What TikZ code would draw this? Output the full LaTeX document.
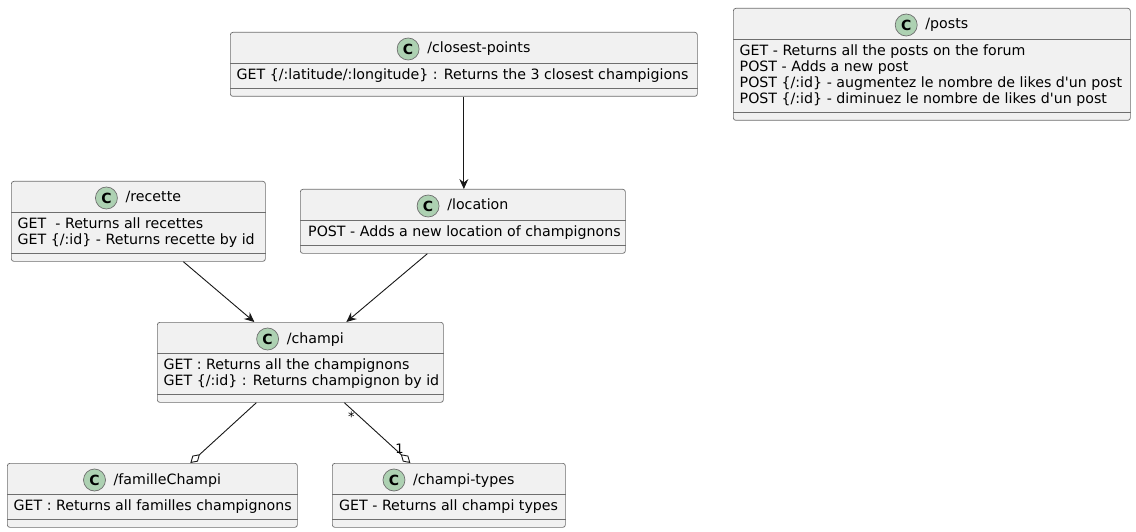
\documentclass[tikz,border=0pt]{standalone}
\usepackage{fontspec}
\setmainfont{DejaVu Sans}[Ligatures=TeXOff]
\usetikzlibrary{arrows.meta}
\definecolor{clsfill}{HTML}{F1F1F1}
\definecolor{clsline}{HTML}{181818}
\definecolor{boxline}{HTML}{6E6E6E}
\definecolor{spot}{HTML}{ADD1B2}
\tikzset{
  clsbox/.style={draw=boxline, fill=clsfill, line width=0.7pt, rounded corners=2.5pt, inner sep=0pt},
  sepline/.style={draw=boxline, line width=0.7pt},
  spotc/.style={circle, draw=boxline, fill=spot, line width=0.7pt, minimum size=22pt, inner sep=0pt, font=\fontsize{14}{14}\selectfont\bfseries},
  ttl/.style={anchor=base, inner sep=0pt, font=\fontsize{14.2}{16}\selectfont},
  bodyline/.style={anchor=base west, inner sep=0pt, font=\fontsize{14.2}{16}\selectfont},
  conn/.style={draw=clsline, line width=0.9pt},
  arr/.style={conn, -{Stealth[length=10pt,width=9pt,inset=3.5pt]}},
  agg/.style={conn, -{Diamond[open,length=13pt,width=8pt,line width=0.9pt]}},
  mult/.style={inner sep=1pt, font=\fontsize{13}{13}\selectfont},
}
% #1 name, #2 left, #3 top, #4 width, #5 number of lines, #6 title, #7 text indent, #8 lines
\newcommand{\umlcls}[8]{%
  \pgfmathsetmacro{\clsH}{48+16*#5}%
  \node[clsbox, anchor=north west, minimum width=#4pt, minimum height=\clsH pt] (#1) at (#2,#3) {};
  \draw[sepline] ([yshift=-31pt]#1.north west) -- ([yshift=-31pt]#1.north east);
  \draw[sepline] ([yshift=8pt]#1.south west) -- ([yshift=8pt]#1.south east);
  \node[ttl] (#1-title) at ([xshift=15pt,yshift=-21pt]#1.north) {#6};
  \node[spotc] (#1-spot) at ([xshift=-19pt,yshift=-17pt]#1-title.west |- #1.north) {C};
  \foreach \ln [count=\i] in {#8} {
    \node[bodyline] at ([xshift=#7pt,yshift={-31.5pt-16pt*\i}]#1.north west) {\ln};
  }
}
\begin{document}
\begin{tikzpicture}[x=1pt,y=-1pt]
\useasboundingbox (0,0) rectangle (1136,532);
\fill[white] (0,0) rectangle (1136,532);

\umlcls{cp}{230}{32}{467}{1}{/closest-points}{6.5}{GET \{/:latitude/:longitude\} : Returns the 3 closest champigions}
\umlcls{posts}{733}{8}{397}{4}{/posts}{6.5}{GET - Returns all the posts on the forum,POST - Adds a new post,POST \{/:id\} - augmentez le nombre de likes d'un post,POST \{/:id\} - diminuez le nombre de likes d'un post}
\umlcls{recette}{11}{181}{254}{2}{/recette}{6.5}{GET\ \ - Returns all recettes,GET \{/:id\} - Returns recette by id}
\umlcls{location}{300}{189}{325}{1}{/location}{8}{POST - Adds a new location of champignons}
\umlcls{champi}{157}{322}{286}{2}{/champi}{6.5}{GET : Returns all the champignons,GET \{/:id\} : Returns champignon by id}
\umlcls{famille}{7}{463}{290}{1}{/familleChampi}{6.5}{GET : Returns all familles champignons}
\umlcls{types}{332}{463}{233}{1}{/champi-types}{7}{GET - Returns all champi types}

\draw[arr] (cp.south) -- (cp.south |- location.north);
\draw[arr] ([xshift=45pt]recette.south) -- ([xshift=-46pt]champi.north);
\draw[arr] ([xshift=-35.5pt]location.south) -- ([xshift=46pt]champi.north);
\draw[agg] ([xshift=-44pt]champi.south) -- ([xshift=38pt]famille.north);
\draw[agg] ([xshift=44pt]champi.south) -- ([xshift=-38.5pt]types.north)
  node[mult, pos=0.24, anchor=east, xshift=-4pt] {*}
  node[mult, pos=0.72, anchor=west, xshift=2pt, yshift=-3pt] {1};
\end{tikzpicture}
\end{document}
